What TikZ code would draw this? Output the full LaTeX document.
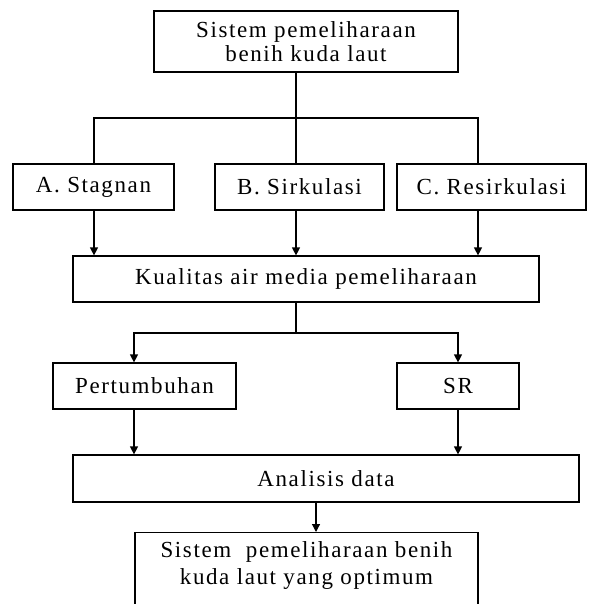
\documentclass[tikz,border=0pt]{standalone}
\usepackage{fontspec}
\setmainfont{Liberation Serif}[LetterSpace=7]
\usetikzlibrary{arrows.meta,positioning}

\tikzset{
	kotak/.style={draw,line width=1.2pt,inner sep=0pt,align=center,font=\fontsize{23}{24}\selectfont},
	arr/.style={-{Triangle[length=8pt,width=8pt]}}
}

\begin{document}
\begin{tikzpicture}[x=1pt,y=-1pt,line width=1.2pt]
		\clip (0,0) rectangle (590,604);
		\useasboundingbox (0,0) rectangle (590,604);

		\node[kotak,minimum width=304,minimum height=61]	(sistem)	at (306,41.5)	{Sistem pemeliharaan\\ benih kuda laut};
		\node[kotak,minimum width=161,minimum height=46]	(stagnan)	at (93.5,187)	{A. Stagnan};
		\node[kotak,minimum width=169,minimum height=46]	(sirkulasi)	at (299.5,187)	{B. Sirkulasi};
		\node[kotak,minimum width=189,minimum height=46]	(resirkulasi)	at (491.5,187)	{C. Resirkulasi};
		\node[kotak,minimum width=466,minimum height=46]	(kualitas)	at (306,279)	{Kualitas air media pemeliharaan};
		\node[kotak,minimum width=183,minimum height=46]	(tumbuh)	at (144.5,386)	{Pertumbuhan};
		\node[kotak,minimum width=122,minimum height=46]	(sr)		at (458,386)	{SR};
		\node[kotak,minimum width=506,minimum height=47]	(analisis)	at (326,478.5)	{Analisis data};
		\node[kotak,minimum width=343,minimum height=110,anchor=north]	(optimum)	at (306.5,532)	{};
		\node[font=\fontsize{23}{27}\selectfont,align=center,anchor=north,inner sep=0pt]	(teks)	at (optimum.north) [yshift=-9pt]	{Sistem\ \ pemeliharaan benih\\kuda laut yang optimum};

		\coordinate (ja) at (94,118);
		\coordinate (jb) at (296,118);
		\coordinate (jc) at (478,118);
		\coordinate (kb) at (296,333);
		\coordinate (ka) at (134,333);
		\coordinate (kc) at (458,333);
		\coordinate (ad) at (316,0);

		\draw (sistem.south -| jb) -- (jb |- sirkulasi.north);
		\draw (ja |- stagnan.north) -- (ja) -- (jc) -- (jc |- resirkulasi.north);
		\draw[arr] (ja |- stagnan.south) -- (ja |- kualitas.north);
		\draw[arr] (jb |- sirkulasi.south) -- (jb |- kualitas.north);
		\draw[arr] (jc |- resirkulasi.south) -- (jc |- kualitas.north);
		\draw (kb |- kualitas.south) -- (kb);
		\draw[arr] (kb) -- (ka) -- (ka |- tumbuh.north);
		\draw[arr] (kb) -- (kc) -- (kc |- sr.north);
		\draw[arr] (ka |- tumbuh.south) -- (ka |- analisis.north);
		\draw[arr] (kc |- sr.south) -- (kc |- analisis.north);
		\draw[arr] (ad |- analisis.south) -- (ad |- optimum.north);
	\end{tikzpicture}
\end{document}
